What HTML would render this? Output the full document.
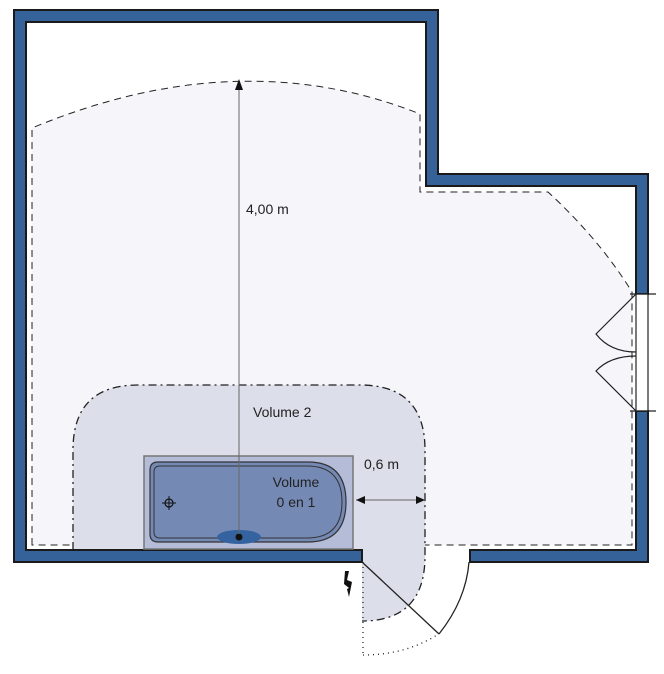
<!DOCTYPE html>
<html><head><meta charset="utf-8"><style>
html,body{margin:0;padding:0;background:#fff;width:664px;height:674px;overflow:hidden}
svg{display:block}
text{font-family:"Liberation Sans",sans-serif;font-size:14px;fill:#222}
</style></head><body>
<svg width="664" height="674" viewBox="0 0 664 674" xmlns="http://www.w3.org/2000/svg">
<path d="M26,22 H426 V186 H636 V550 H26 Z" fill="#fff"/>
<path d="M32,128 Q239,42 420,114 V192 H550 Q600,240 632,292 V545 H32 Z" fill="#f5f5fa"/>
<path d="M32,545 V128 Q239,42 420,114 V192 H548 Q600,240 632,292 V545 Z" fill="none" stroke="#222" stroke-width="1" stroke-dasharray="7,5"/>
<path d="M73,550 V450 Q73,385 138,385 H360 Q425,385 425,450 V556 Q425,621 362,621 V550 Z" fill="#dcdfea"/>
<path d="M73,550 V450 Q73,385 138,385 H360 Q425,385 425,450 V556 Q425,621 362,621" fill="none" stroke="#222" stroke-width="1.3" stroke-dasharray="8,4,2,4"/>
<path d="M14,10 H438 V174 H648 V294 H636 V186 H426 V22 H26 V550 H362 V562 H14 Z" fill="#356399" stroke="#1a1a1a" stroke-width="2"/>
<path d="M636,411 H648 V562 H470 V550 H636 Z" fill="#356399" stroke="#1a1a1a" stroke-width="2"/>
<rect x="636" y="294" width="12" height="117" fill="#fff" stroke="#222" stroke-width="1.2"/>
<line x1="630" y1="294" x2="656" y2="294" stroke="#222" stroke-width="1.2"/>
<line x1="630" y1="411" x2="656" y2="411" stroke="#222" stroke-width="1.2"/>
<path d="M636,294 L596,334 Q610,352 636,352" fill="none" stroke="#222" stroke-width="1.2"/>
<path d="M636,356 Q610,356 596,371 L636,411" fill="none" stroke="#222" stroke-width="1.2"/>
<line x1="362" y1="562" x2="439" y2="634" stroke="#222" stroke-width="1.3"/>
<path d="M439,634 Q466,600 469,562" fill="none" stroke="#222" stroke-width="1.3"/>
<line x1="363" y1="562" x2="363" y2="655" stroke="#222" stroke-width="1.3" stroke-dasharray="1,4"/>
<path d="M363,655 Q405,655 437,635" fill="none" stroke="#222" stroke-width="1.3" stroke-dasharray="1,4"/>
<rect x="144" y="456" width="209" height="93" fill="#b4bcd8" stroke="#777" stroke-width="1.5"/>
<path d="M158,462 H308 Q346,462 346,502 Q346,542 308,542 H158 Q150,542 150,534 V470 Q150,462 158,462 Z" fill="#7589b5" stroke="#333" stroke-width="1.2"/>
<path d="M160,466 H307 Q342,466 342,502 Q342,538 307,538 H160 Q154,538 154,532 V472 Q154,466 160,466 Z" fill="none" stroke="#333" stroke-width="1"/>
<ellipse cx="239" cy="537" rx="22" ry="7" fill="#3563a0"/>
<circle cx="239" cy="537" r="3.5" fill="#111"/>
<circle cx="169" cy="503" r="4" fill="none" stroke="#111" stroke-width="1.2"/>
<line x1="162" y1="503" x2="176" y2="503" stroke="#111"/>
<line x1="169" y1="496" x2="169" y2="510" stroke="#111"/>
<line x1="239" y1="534" x2="239" y2="86" stroke="#666" stroke-width="1"/>
<path d="M235,90 L239,79 L243,90 Z" fill="#111"/>
<text x="246" y="214">4,00 m</text>
<text x="253" y="417">Volume 2</text>
<text x="296" y="487" text-anchor="middle">Volume</text>
<text x="296" y="507" text-anchor="middle">0 en 1</text>
<line x1="356" y1="500" x2="425" y2="500" stroke="#666" stroke-width="1"/>
<path d="M356,500 L365,496 L365,504 Z" fill="#111"/>
<path d="M425,500 L416,496 L416,504 Z" fill="#111"/>
<text x="364" y="469">0,6 m</text>
<path d="M345,571 L349,571 L347,580 L352,582 L349,597 L347,589 L349,588 L344,584 Z" fill="#111"/>
</svg>
</body></html>
